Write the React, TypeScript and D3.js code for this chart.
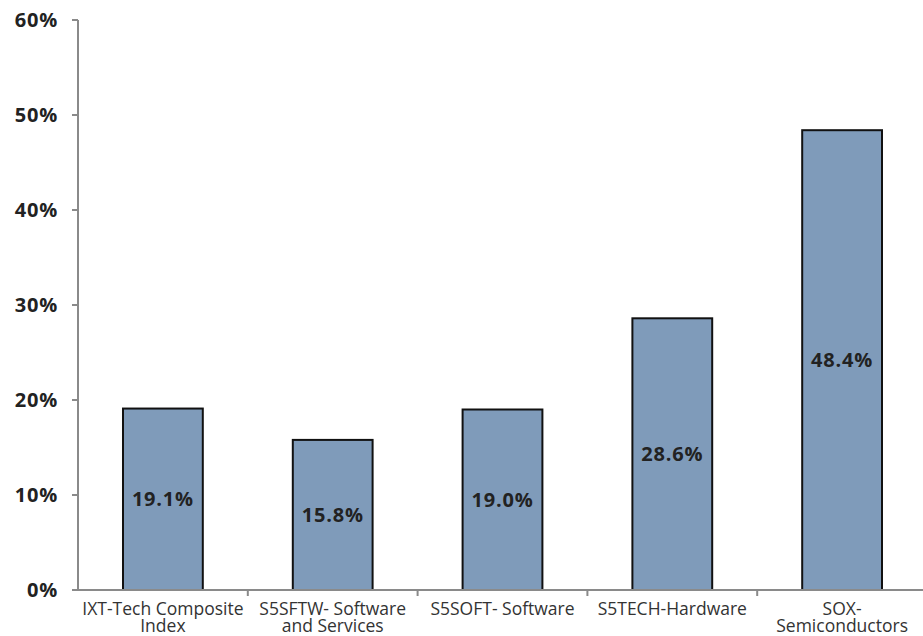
import React from "react";
import * as d3 from "d3";

const categories = [
  ["IXT-Tech Composite", "Index"],
  ["S5SFTW- Software", "and Services"],
  ["S5SOFT- Software"],
  ["S5TECH-Hardware"],
  ["SOX-", "Semiconductors"],
];
const values = [19.1, 15.8, 19.0, 28.6, 48.4];
const yTicks = [0, 10, 20, 30, 40, 50, 60];

const W = 923;
const H = 636;

export default function App() {
  const x0 = 78;
  const x = d3
    .scaleBand<number>()
    .domain(d3.range(values.length))
    .range([x0, x0 + 5 * 169.8])
    .paddingInner(0.53)
    .paddingOuter(0.265);
  const y = d3.scaleLinear().domain([0, 60]).range([590, 20]);
  const font = "'Open Sans', sans-serif";
  const bandStep = 169.8;

  return (
    <svg width={W} height={H} style={{ position: "absolute", left: 0, top: 0 }}>
      <rect width={W} height={H} fill="#fff" />
      {values.map((v, i) => (
        <rect
          key={i}
          x={x(i)!}
          y={y(v)}
          width={x.bandwidth()}
          height={y(0) - y(v)}
          fill="#7f9bba"
          stroke="#111"
          strokeWidth={2}
        />
      ))}
      {/* y axis */}
      <line x1={x0} x2={x0} y1={y(60)} y2={y(0)} stroke="#8a8a8a" strokeWidth={2} />
      {yTicks.map((t) => (
        <g key={t}>
          <line x1={x0 - 6} x2={x0} y1={y(t)} y2={y(t)} stroke="#8a8a8a" strokeWidth={2} />
          <text
            x={58}
            y={y(t)}
            dy="0.36em"
            textAnchor="end"
            fontFamily={font}
            fontWeight={700}
            fontSize={20}
            letterSpacing={0.8}
            fill="#222"
          >
            {t}%
          </text>
        </g>
      ))}
      {/* x axis */}
      <line x1={x0} x2={W} y1={y(0)} y2={y(0)} stroke="#8a8a8a" strokeWidth={2} />
      {d3.range(1, 6).map((k) => (
        <line
          key={k}
          x1={x0 + k * bandStep}
          x2={x0 + k * bandStep}
          y1={y(0)}
          y2={y(0) + 6}
          stroke="#8a8a8a"
          strokeWidth={2}
        />
      ))}
      {categories.map((lines, i) =>
        lines.map((l, j) => (
          <text
            key={`${i}-${j}`}
            x={x(i)! + x.bandwidth() / 2}
            y={615 + j * 16.5}
            textAnchor="middle"
            fontFamily={font}
            fontSize={17.5}
            fill="#333"
          >
            {l}
          </text>
        ))
      )}
      {values.map((v, i) => (
        <text
          key={i}
          x={x(i)! + x.bandwidth() / 2}
          y={(y(v) + y(0)) / 2}
          dy="0.36em"
          textAnchor="middle"
          fontFamily={font}
          fontWeight={700}
          fontSize={20}
          letterSpacing={0.8}
          fill="#222"
        >
          {v.toFixed(1)}%
        </text>
      ))}
    </svg>
  );
}
